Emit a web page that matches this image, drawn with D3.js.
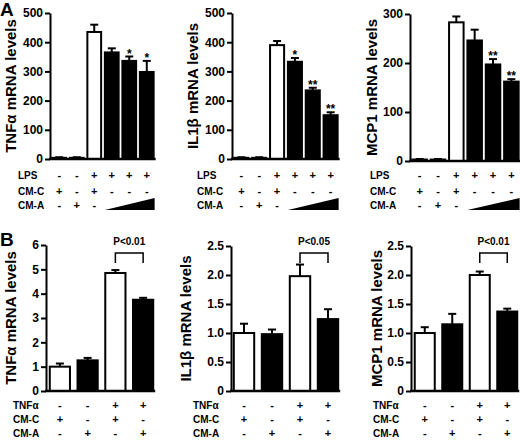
<!DOCTYPE html>
<html><head><meta charset="utf-8">
<script src="https://cdn.jsdelivr.net/npm/d3@7"></script>
<style>
body{margin:0;background:#fff}
svg{display:block}
text{font-family:"Liberation Sans",Arial,Helvetica,sans-serif;fill:#000}
</style>
</head><body>
<svg id="c" width="520" height="440"></svg>
<script>
// ---------- data ----------
const groupsA = ["g1","g2","g3","g4","g5","g6"];
const rowNamesA = ["LPS","CM-C","CM-A"];
const lpsRowA = ["-","-","+","+","+","+"];
const cmcRowA = ["+","-","+","-","-","-"];
const cmaRowA = ["-","+","-","","",""];
const fillsA = ["white","black","white","black","black","black"];

const tnfA = [4, 4, 435, 365, 336, 298];
const tnfAErr = [2, 2, 25, 14, 15, 38];
const tnfAStars = ["","","","","*","*"];
const il1bA = [4, 4, 390, 333, 235, 150];
const il1bAErr = [2, 2, 14, 13, 9, 10];
const il1bAStars = ["","","","*","**","**"];
const mcp1A = [3, 3, 283, 246, 197, 162];
const mcp1AErr = [1, 1, 12, 22, 11, 5];
const mcp1AStars = ["","","","","**","**"];
const ticksA12 = [0,100,200,300,400,500];
const ticksA3 = [0,100,200,300];

const groupsB = ["h1","h2","h3","h4"];
const rowNamesB = ["TNFα","CM-C","CM-A"];
const tnfRowB = ["-","-","+","+"];
const cmcRowB = ["+","-","+","-"];
const cmaRowB = ["-","+","-","+"];
const fillsB = ["white","black","white","black"];

const tnfB = [1.0, 1.26, 4.85, 3.75];
const tnfBErr = [0.13, 0.1, 0.12, 0.08];
const il1bB = [1.0, 0.98, 1.98, 1.24];
const il1bBErr = [0.16, 0.08, 0.2, 0.17];
const mcp1B = [1.0, 1.15, 2.0, 1.37];
const mcp1BErr = [0.1, 0.18, 0.06, 0.05];
const ticksB1 = [0,1,2,3,4,5,6];
const ticksB23 = [0,0.5,1.0,1.5,2.0,2.5];
const pLabels = ["P<0.01","P<0.05","P<0.01"];
const yLabels = ["TNFα mRNA levels","IL1β mRNA levels","MCP1 mRNA levels"];

// ---------- drawing ----------
const svg = d3.select("#c");

function drawPanel(c) {
  const g = svg.append("g");
  const y = d3.scaleLinear().domain([0, c.max]).range([c.bottom, c.top]);
  const x = d3.scaleBand().domain(c.groups).range([c.x0, c.x1]).paddingInner(c.pad).paddingOuter(c.padOuter);
  const bw = x.bandwidth();

  // y axis
  const ax = g.append("g").attr("transform", `translate(${c.axisX},0)`)
    .call(d3.axisLeft(y).tickValues(c.ticks).tickSize(5).tickSizeOuter(0).tickPadding(2).tickFormat(c.fmt));
  ax.select(".domain").attr("stroke", "#000").attr("stroke-width", 2);
  ax.selectAll(".tick line").attr("stroke", "#000").attr("stroke-width", 2);
  ax.selectAll(".tick text").attr("font-size", 12).attr("font-weight", "bold")
    .attr("font-family", "Liberation Sans, Arial, sans-serif").attr("fill", "#000");

  // y label
  g.append("text")
    .attr("transform", `translate(${c.labelX},${(c.top + c.bottom) / 2}) rotate(-90)`)
    .attr("text-anchor", "middle").attr("dominant-baseline", "central")
    .attr("font-size", 15).attr("font-weight", "bold").text(c.label);

  // error bars
  c.values.forEach((v, i) => {
    const cx = x(c.groups[i]) + bw / 2;
    const yt = y(v + c.errs[i]);
    g.append("line").attr("x1", cx).attr("x2", cx).attr("y1", y(v)).attr("y2", yt)
      .attr("stroke", "#000").attr("stroke-width", 2);
    g.append("line").attr("x1", cx - c.cap / 2).attr("x2", cx + c.cap / 2).attr("y1", yt).attr("y2", yt)
      .attr("stroke", "#000").attr("stroke-width", 2);
  });

  // bars
  g.selectAll("rect.bar").data(c.values).join("rect").attr("class", "bar")
    .attr("x", (d, i) => x(c.groups[i]) + 1)
    .attr("y", d => y(d))
    .attr("width", bw - 2)
    .attr("height", d => y(0) - y(d))
    .attr("fill", (d, i) => c.fills[i])
    .attr("stroke", "#000").attr("stroke-width", 2);

  // baseline
  g.append("line").attr("x1", c.axisX - 1).attr("x2", x(c.groups[c.groups.length - 1]) + bw + 1)
    .attr("y1", y(0)).attr("y2", y(0)).attr("stroke", "#000").attr("stroke-width", 2.5);

  // stars
  if (c.stars) {
    c.values.forEach((v, i) => {
      if (!c.stars[i]) return;
      g.append("text").attr("x", x(c.groups[i]) + bw / 2).attr("y", y(v + c.errs[i]) + 1)
        .attr("text-anchor", "middle").attr("font-size", 12).attr("font-weight", "bold").text(c.stars[i]);
    });
  }

  // condition rows
  c.rows.forEach((row, r) => {
    const yy = c.rowY[r];
    g.append("text").attr("x", c.rowLabelX).attr("y", yy).attr("dominant-baseline", "central")
      .attr("font-size", 10).attr("font-weight", "bold").text(c.rowNames[r]);
    row.forEach((s, i) => {
      if (!s) return;
      g.append("text").attr("x", x(c.groups[i]) + bw / 2).attr("y", yy)
        .attr("text-anchor", "middle").attr("dominant-baseline", "central")
        .attr("font-size", 11).attr("font-weight", "bold").text(s);
    });
  });

  // wedge for increasing CM-A dose
  if (c.wedge) {
    const xa = x(c.groups[c.wedge[0]]) + 1;
    const xb = x(c.groups[c.wedge[1]]) + bw;
    const yb = c.rowY[2] + 5, yt = c.rowY[2] - 7;
    g.append("path").attr("d", `M${xa},${yb}L${xb},${yt}L${xb},${yb}Z`).attr("fill", "#000");
  }

  // p-value bracket
  if (c.p) {
    const xa = x(c.groups[2]) + bw / 2, xb = x(c.groups[3]) + bw / 2;
    g.append("path").attr("d", `M${xa},${c.bracketBottom}L${xa},${c.bracketTop}L${xb},${c.bracketTop}L${xb},${c.bracketBottom}`)
      .attr("fill", "none").attr("stroke", "#000").attr("stroke-width", 1.5);
    g.append("text").attr("x", (xa + xb) / 2).attr("y", c.bracketTop - 8)
      .attr("text-anchor", "middle").attr("font-size", 10).attr("font-weight", "bold").text(c.p);
  }
}

const fmtInt = d3.format("d");
const fmtB = d => d === 0 ? "0" : d3.format(".1f")(d);

const rowsA = [lpsRowA, cmcRowA, cmaRowA];
const rowsB = [tnfRowB, cmcRowB, cmaRowB];
const rowYA = [175, 191, 205];
const rowYB = [405, 419, 433];

const baseA = {groups: groupsA, rows: rowsA, rowNames: rowNamesA, rowY: rowYA, fills: fillsA, pad: 0.1, padOuter: 0.02, cap: 8, wedge: [3, 5], fmt: fmtInt};
const baseB = {groups: groupsB, rows: rowsB, rowNames: rowNamesB, rowY: rowYB, fills: fillsB, pad: 0.2, padOuter: 0.1, cap: 8, fmt: fmtB, bracketTop: 253, bracketBottom: 263};

drawPanel({...baseA, values: tnfA, errs: tnfAErr, stars: tnfAStars, label: yLabels[0], max: 500, ticks: ticksA12,
  top: 13, bottom: 159, axisX: 50, x0: 51, x1: 155, labelX: 10, rowLabelX: 18});
drawPanel({...baseA, values: il1bA, errs: il1bAErr, stars: il1bAStars, label: yLabels[1], max: 500, ticks: ticksA12,
  top: 13, bottom: 159, axisX: 232, x0: 233, x1: 339, labelX: 192, rowLabelX: 197});
drawPanel({...baseA, values: mcp1A, errs: mcp1AErr, stars: mcp1AStars, label: yLabels[2], max: 300, ticks: ticksA3,
  top: 14, bottom: 161, axisX: 410, x0: 411, x1: 520, labelX: 371, rowLabelX: 370});

drawPanel({...baseB, values: tnfB, errs: tnfBErr, p: pLabels[0], label: yLabels[0], max: 6, ticks: ticksB1, fmt: fmtInt,
  top: 245, bottom: 391, axisX: 46, x0: 46, x1: 157, labelX: 10, rowLabelX: 13});
drawPanel({...baseB, values: il1bB, errs: il1bBErr, p: pLabels[1], label: yLabels[1], max: 2.5, ticks: ticksB23,
  top: 246, bottom: 391, axisX: 231, x0: 230, x1: 342, labelX: 185, rowLabelX: 193});
drawPanel({...baseB, values: mcp1B, errs: mcp1BErr, p: pLabels[2], label: yLabels[2], max: 2.5, ticks: ticksB23,
  top: 246, bottom: 391, axisX: 411, x0: 411, x1: 521, labelX: 376, rowLabelX: 373});

// panel letters
svg.append("text").attr("x", 0).attr("y", 16).attr("font-size", 19).attr("font-weight", "bold").text("A");
svg.append("text").attr("x", 0).attr("y", 246).attr("font-size", 19).attr("font-weight", "bold").text("B");
</script>
</body></html>
